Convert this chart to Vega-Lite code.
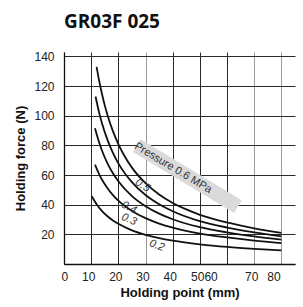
{
  "$schema": "https://vega.github.io/schema/vega-lite/v6.json",
  "width": 231,
  "height": 212,
  "autosize": {"type": "none"},
  "padding": {"left": 64, "top": 52, "right": 8, "bottom": 43},
  "background": "white",
  "title": {"text": "GR03F 025", "anchor": "start", "frame": "group", "font": "Open Sans", "fontSize": 19, "fontWeight": "bold", "color": "#111", "offset": 18},
  "config": {
    "view": {"stroke": null},
    "axis": {"labelFont": "Liberation Sans Narrow, Liberation Sans, Arial", "labelFontSize": 12, "labelColor": "#222", "titleFont": "Liberation Sans, Arial", "titleFontSize": 13, "titleFontWeight": "bold", "titleColor": "#111", "domainColor": "#111", "domainWidth": 1.3, "ticks": false, "gridWidth": 1}
  },
  "datasets": {
    "curves": [
      {"p": "0.6", "x": 12, "f": 133}, {"p": "0.6", "x": 13, "f": 123}, {"p": "0.6", "x": 14, "f": 114.5}, {"p": "0.6", "x": 15, "f": 107}, {"p": "0.6", "x": 16, "f": 100.5}, {"p": "0.6", "x": 18, "f": 89.6}, {"p": "0.6", "x": 20, "f": 80.9}, {"p": "0.6", "x": 22, "f": 73.7}, {"p": "0.6", "x": 25, "f": 65}, {"p": "0.6", "x": 30, "f": 54.5}, {"p": "0.6", "x": 35, "f": 46.9}, {"p": "0.6", "x": 40, "f": 41.2}, {"p": "0.6", "x": 45, "f": 36.8}, {"p": "0.6", "x": 50, "f": 33.2}, {"p": "0.6", "x": 60, "f": 28}, {"p": "0.6", "x": 70, "f": 24}, {"p": "0.6", "x": 80, "f": 21},
      {"p": "0.5", "x": 11.6, "f": 113}, {"p": "0.5", "x": 13, "f": 101.6}, {"p": "0.5", "x": 14, "f": 94.8}, {"p": "0.5", "x": 16, "f": 83.7}, {"p": "0.5", "x": 18, "f": 75}, {"p": "0.5", "x": 20, "f": 67.9}, {"p": "0.5", "x": 25, "f": 55.2}, {"p": "0.5", "x": 30, "f": 46.5}, {"p": "0.5", "x": 35, "f": 40.3}, {"p": "0.5", "x": 40, "f": 35.6}, {"p": "0.5", "x": 50, "f": 28.9}, {"p": "0.5", "x": 60, "f": 24.6}, {"p": "0.5", "x": 70, "f": 21.3}, {"p": "0.5", "x": 80, "f": 18.6},
      {"p": "0.4", "x": 11.4, "f": 91.6}, {"p": "0.4", "x": 13, "f": 81.6}, {"p": "0.4", "x": 14, "f": 76.4}, {"p": "0.4", "x": 16, "f": 67.9}, {"p": "0.4", "x": 18, "f": 61.2}, {"p": "0.4", "x": 20, "f": 55.8}, {"p": "0.4", "x": 25, "f": 45.8}, {"p": "0.4", "x": 30, "f": 39}, {"p": "0.4", "x": 35, "f": 34}, {"p": "0.4", "x": 40, "f": 30.2}, {"p": "0.4", "x": 50, "f": 24.8}, {"p": "0.4", "x": 60, "f": 21.3}, {"p": "0.4", "x": 70, "f": 18.6}, {"p": "0.4", "x": 80, "f": 16.4},
      {"p": "0.3", "x": 11.4, "f": 67}, {"p": "0.3", "x": 13, "f": 60.3}, {"p": "0.3", "x": 14, "f": 56.8}, {"p": "0.3", "x": 16, "f": 51.1}, {"p": "0.3", "x": 18, "f": 46.5}, {"p": "0.3", "x": 20, "f": 42.7}, {"p": "0.3", "x": 25, "f": 35.8}, {"p": "0.3", "x": 30, "f": 30.9}, {"p": "0.3", "x": 35, "f": 27.3}, {"p": "0.3", "x": 40, "f": 24.5}, {"p": "0.3", "x": 50, "f": 20.5}, {"p": "0.3", "x": 60, "f": 17.9}, {"p": "0.3", "x": 70, "f": 15.8}, {"p": "0.3", "x": 80, "f": 14.1},
      {"p": "0.2", "x": 10.2, "f": 45.7}, {"p": "0.2", "x": 12, "f": 40.3}, {"p": "0.2", "x": 14, "f": 35.7}, {"p": "0.2", "x": 16, "f": 32.2}, {"p": "0.2", "x": 18, "f": 29.4}, {"p": "0.2", "x": 20, "f": 27.1}, {"p": "0.2", "x": 25, "f": 22.7}, {"p": "0.2", "x": 30, "f": 19.7}, {"p": "0.2", "x": 35, "f": 17.5}, {"p": "0.2", "x": 40, "f": 15.8}, {"p": "0.2", "x": 50, "f": 13.3}, {"p": "0.2", "x": 60, "f": 11.5}, {"p": "0.2", "x": 70, "f": 10.2}, {"p": "0.2", "x": 80, "f": 9.2}
    ],
    "band": [{"x": 26.8, "f": 79.8, "x2": 64, "f2": 38.7}],
    "bandText": [{"x": 40.1, "f": 64.7, "text": "Pressure 0.6 MPa"}],
    "labels": [
      {"lab": "0.5", "x": 28.9, "f": 52.9},
      {"lab": "0.4", "x": 23.9, "f": 38},
      {"lab": "0.3", "x": 23.9, "f": 30},
      {"lab": "0.2", "x": 34.2, "f": 12.4}
    ]
  },
  "encoding": {
    "x": {"field": "x", "type": "quantitative", "scale": {"domain": [0, 85], "nice": false, "zero": false},
      "axis": {"title": "Holding point (mm)", "values": [0, 10, 20, 30, 40, 50, 60, 70, 80], "labelPadding": 7, "titlePadding": 4,
        "labelExpr": "datum.value == 50 ? '5060' : datum.value == 60 ? '' : datum.label",
        "labelOffset": {"condition": [{"test": "datum.value == 80", "value": -8}, {"test": "datum.value == 50", "value": 4}], "value": -3},
        "gridColor": {"condition": {"test": "datum.value == 30 || datum.value >= 70", "value": "#9a9a9a"}, "value": "#2a2a2a"}}},
    "y": {"field": "f", "type": "quantitative", "scale": {"domain": [0, 143], "nice": false},
      "axis": {"title": "Holding force (N)", "values": [0, 20, 40, 60, 80, 100, 120, 140], "labelPadding": 10, "titlePadding": 6, "gridColor": "#2a2a2a",
        "labelExpr": "datum.value == 0 ? '' : datum.label"}}
  },
  "layer": [
    {"data": {"name": "band"}, "mark": {"type": "rule", "color": "#dadada", "strokeWidth": 15, "strokeCap": "butt"},
      "encoding": {"x2": {"field": "x2"}, "y2": {"field": "f2"}}},
    {"data": {"name": "bandText"}, "mark": {"type": "text", "angle": 31, "align": "center", "baseline": "middle", "font": "Liberation Sans Narrow, Liberation Sans, Arial", "fontSize": 11, "color": "#333"},
      "encoding": {"text": {"field": "text"}}},
    {"data": {"name": "curves"}, "mark": {"type": "line", "color": "#111", "strokeWidth": 1.8, "interpolate": "monotone"},
      "encoding": {"detail": {"field": "p"}}},
    {"data": {"name": "labels"}, "mark": {"type": "text", "align": "center", "baseline": "middle", "font": "Liberation Sans Narrow, Liberation Sans, Arial", "fontSize": 11, "fontStyle": "italic", "color": "#333"},
      "encoding": {"text": {"field": "lab"}, "angle": {"field": "lab", "type": "ordinal", "scale": {"domain": ["0.5", "0.4", "0.3", "0.2"], "range": [32, 20, 18, 5]}, "legend": null}}},
    {"mark": {"type": "rule", "color": "#111", "strokeWidth": 1.3}, "encoding": {"y": {"datum": 143}, "x": {"datum": 0}, "x2": {"datum": 85}}}
  ]
}
